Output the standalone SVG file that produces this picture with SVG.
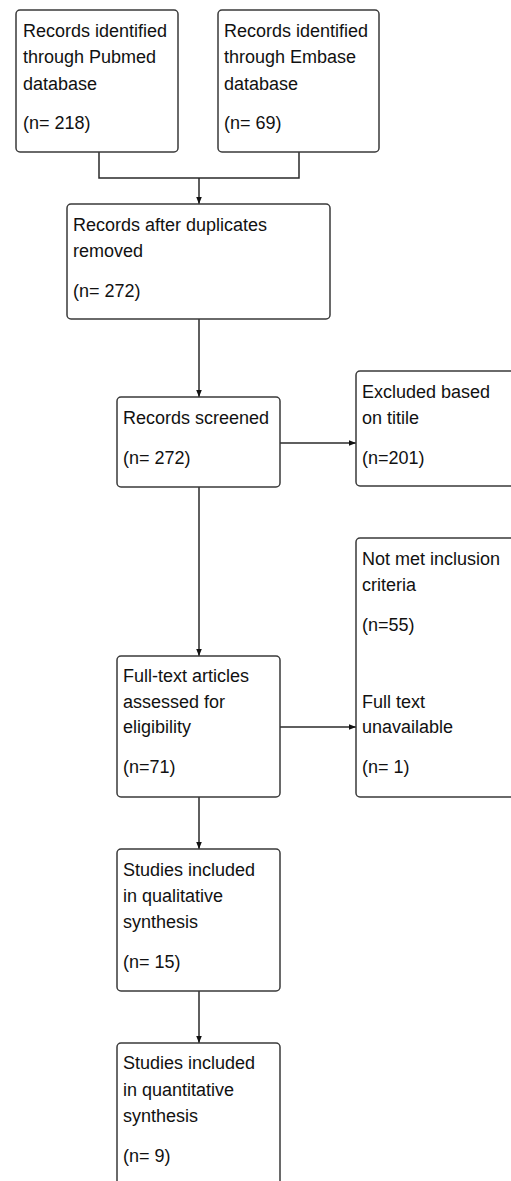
<svg xmlns="http://www.w3.org/2000/svg" width="511" height="1181" viewBox="0 0 511 1181">
<style>
.box{fill:#fff;stroke:#3a3a3a;stroke-width:1.5}
.t{font-family:"Liberation Sans",Arial,sans-serif;font-size:18px;fill:#111}
.c{fill:none;stroke:#2a2a2a;stroke-width:1.5}
</style>
<defs>
<marker id="ah" markerUnits="userSpaceOnUse" markerWidth="8" markerHeight="8" viewBox="0 0 8 8" refX="8" refY="4" orient="auto">
<path d="M1,1.2 L8,4 L1,6.8 Z" fill="#111"/>
</marker>
</defs>
<rect width="511" height="1181" fill="#fff"/>
<g id="connectors">
<path class="c" d="M99,152 V178 H299 V152"/>
<path class="c" d="M199,178 V204" marker-end="url(#ah)"/>
<path class="c" d="M199,319 V397" marker-end="url(#ah)"/>
<path class="c" d="M280,443 H356" marker-end="url(#ah)"/>
<path class="c" d="M199,487 V656" marker-end="url(#ah)"/>
<path class="c" d="M280,727 H356" marker-end="url(#ah)"/>
<path class="c" d="M199,797 V849" marker-end="url(#ah)"/>
<path class="c" d="M199,991 V1043" marker-end="url(#ah)"/>
</g>
<g id="pubmed">
<rect class="box" x="16" y="10" width="162" height="142" rx="4"/>
<text class="t" x="23" y="37">Records identified</text>
<text class="t" x="23" y="63">through Pubmed</text>
<text class="t" x="23" y="90">database</text>
<text class="t" x="23" y="129">(n= 218)</text>
</g>
<g id="embase">
<rect class="box" x="218" y="10" width="161" height="142" rx="4"/>
<text class="t" x="224" y="37">Records identified</text>
<text class="t" x="224" y="63">through Embase</text>
<text class="t" x="224" y="90">database</text>
<text class="t" x="224" y="129">(n= 69)</text>
</g>
<g id="duplicates">
<rect class="box" x="67" y="204" width="263" height="115" rx="4"/>
<text class="t" x="73" y="231">Records after duplicates</text>
<text class="t" x="73" y="257">removed</text>
<text class="t" x="73" y="297">(n= 272)</text>
</g>
<g id="screened">
<rect class="box" x="117" y="397" width="163" height="90" rx="4"/>
<text class="t" x="123" y="424">Records screened</text>
<text class="t" x="123" y="464">(n= 272)</text>
</g>
<g id="excluded-title">
<rect class="box" x="356" y="371" width="165" height="115" rx="4"/>
<text class="t" x="362" y="398">Excluded based</text>
<text class="t" x="362" y="424">on titile</text>
<text class="t" x="362" y="464">(n=201)</text>
</g>
<g id="fulltext">
<rect class="box" x="117" y="656" width="163" height="141" rx="4"/>
<text class="t" x="123" y="682">Full-text articles</text>
<text class="t" x="123" y="708">assessed for</text>
<text class="t" x="123" y="733">eligibility</text>
<text class="t" x="123" y="773">(n=71)</text>
</g>
<g id="excluded-fulltext">
<rect class="box" x="356" y="538" width="165" height="259" rx="4"/>
<text class="t" x="362" y="565">Not met inclusion</text>
<text class="t" x="362" y="591">criteria</text>
<text class="t" x="362" y="631">(n=55)</text>
<text class="t" x="362" y="708">Full text</text>
<text class="t" x="362" y="733">unavailable</text>
<text class="t" x="362" y="773">(n= 1)</text>
</g>
<g id="qualitative">
<rect class="box" x="117" y="849" width="163" height="142" rx="4"/>
<text class="t" x="123" y="876">Studies included</text>
<text class="t" x="123" y="902">in qualitative</text>
<text class="t" x="123" y="928">synthesis</text>
<text class="t" x="123" y="968">(n= 15)</text>
</g>
<g id="quantitative">
<rect class="box" x="117" y="1043" width="163" height="160" rx="4"/>
<text class="t" x="123" y="1069">Studies included</text>
<text class="t" x="123" y="1096">in quantitative</text>
<text class="t" x="123" y="1122">synthesis</text>
<text class="t" x="123" y="1162">(n= 9)</text>
</g>
</svg>
